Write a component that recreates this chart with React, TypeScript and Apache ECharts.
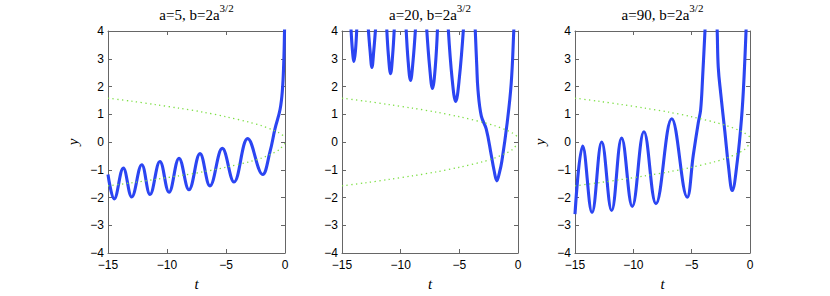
import React, { useEffect, useRef } from "react";
import * as echarts from "echarts";

// ---- data ----
const TITLES = ["a=5", "a=20", "a=90"];
const X_TICKS = { min: -15, max: 0, interval: 5 };
const Y_TICKS = { min: -4, max: 4, interval: 1 };

// blue curves: [t, y] pairs (peaks, troughs and bends), null breaks where the curve leaves the top
const CURVE_A5: ([number, number] | null)[] = [
  [-15, -1.17], [-14.47, -2.05], [-13.7, -0.94], [-12.99, -1.98], [-12.14, -0.82],
  [-11.44, -1.89], [-10.6, -0.7], [-9.83, -1.81], [-8.98, -0.59], [-8.14, -1.72],
  [-7.2, -0.42], [-6.36, -1.58], [-5.31, -0.23], [-4.32, -1.44], [-3.16, 0.12],
  [-1.89, -1.17], [-1.27, -0.35], [-0.85, 0.47], [-0.42, 1.17], [-0.22, 1.87],
  [-0.11, 2.8], [-0.04, 4.0], [-0.03, 4.3],
];

const CURVE_A20: ([number, number] | null)[] = [
  [-14.25, 4.2], [-14.11, 3.3], [-13.98, 2.9], [-13.85, 3.3], [-13.73, 4.2], null,
  [-12.78, 4.2], [-12.61, 3.3], [-12.45, 2.69], [-12.29, 3.3], [-12.12, 4.2], null,
  [-11.2, 4.2], [-11.04, 3.1], [-10.86, 2.46], [-10.69, 3.1], [-10.53, 4.2], null,
  [-9.55, 4.2], [-9.36, 2.9], [-9.16, 2.22], [-8.95, 2.9], [-8.72, 4.2], null,
  [-7.8, 4.2], [-7.53, 2.7], [-7.29, 1.93], [-7.05, 2.7], [-6.85, 4.2], null,
  [-5.96, 4.2], [-5.62, 2.3], [-5.31, 1.46], [-5.0, 2.3], [-4.63, 4.2], null,
  [-3.66, 4.2], [-3.52, 2.8], [-3.41, 1.87], [-3.13, 0.94], [-2.71, 0.47],
  [-2.28, -0.47], [-2.05, -1.0], [-1.8, -1.4], [-1.58, -1.1], [-1.38, -0.7],
  [-0.92, 0.7], [-0.58, 2.1], [-0.36, 4.0], [-0.34, 4.3],
];

const CURVE_A90: ([number, number] | null)[] = [
  [-15, -2.6], [-14.34, -0.15], [-13.54, -2.54], [-12.71, 0.0], [-11.86, -2.47],
  [-11.0, 0.14], [-10.09, -2.32], [-9.09, 0.37], [-8.06, -2.22], [-6.71, 0.84],
  [-5.38, -1.99], [-4.86, -0.47], [-4.43, 0.7], [-4.23, 1.17],
  [-4.06, 2.34], [-3.86, 4.0], [-3.82, 4.3], null,
  [-2.84, 4.3], [-2.81, 3.98], [-2.72, 2.69], [-2.51, 1.75], [-2.15, 0.35],
  [-1.86, -0.82], [-1.52, -1.75], [-1.09, -0.7], [-0.71, 0.94], [-0.51, 2.34],
  [-0.34, 4.0], [-0.31, 4.3],
];

// green dotted envelopes (same in each panel)
const ENV_T = [-15, -13, -11, -9, -7, -5, -3, -2, -1, -0.5, 0];
const ENV_UP = [1.58, 1.47, 1.35, 1.22, 1.08, 0.91, 0.71, 0.59, 0.43, 0.33, 0.18];
const ENV_LOW = [-1.58, -1.47, -1.35, -1.22, -1.08, -0.91, -0.71, -0.58, -0.4, -0.28, -0.05];

const CURVES = [CURVE_A5, CURVE_A20, CURVE_A90];
const SHOW_Y_NAME = [true, false, true];

// ---- layout / style ----
const GRIDS = [
  { left: 108, width: 177 },
  { left: 342, width: 176 },
  { left: 575, width: 175 },
];
const GRID_TOP = 31;
const GRID_H = 228;
const AXIS_COLOR = "#666666";
const BLUE = "#2b45f2";
const GREEN = "#7ddf45";
const SERIF = "Liberation Serif";
const SANS = "Liberation Sans";

const fmt = (v: number) => (v < 0 ? "\u2212" + Math.abs(v) : String(v));

function buildOption() {
  const grid: any[] = [];
  const xAxis: any[] = [];
  const yAxis: any[] = [];
  const series: any[] = [];
  const title: any[] = [];

  GRIDS.forEach((g, i) => {
    grid.push({ left: g.left, width: g.width, top: GRID_TOP, height: GRID_H, show: false });
    title.push({
      text: `{n|${TITLES[i]}, b=2a}{s|3/2}`,
      left: g.left + g.width / 2,
      textAlign: "center",
      top: 2,
      padding: 0,
      textStyle: {
        fontWeight: "normal",
        rich: {
          n: { fontFamily: SERIF, fontSize: 15, fontWeight: "normal", color: "#000", lineHeight: 25 },
          s: {
            fontFamily: SERIF,
            fontSize: 11,
            fontWeight: "normal",
            color: "#000",
            lineHeight: 11,
            verticalAlign: "top",
          },
        },
      },
    });
    const common = {
      gridIndex: i,
      type: "value",
      axisLine: { show: true, onZero: false, lineStyle: { color: AXIS_COLOR, width: 1 } },
      axisTick: { show: true, inside: true, length: 4, lineStyle: { color: AXIS_COLOR } },
      splitLine: { show: false },
    };
    xAxis.push({
      ...common,
      ...X_TICKS,
      position: "bottom",
      axisLabel: { formatter: fmt, fontFamily: SANS, fontSize: 12, color: "#000", margin: 6 },
      name: "t",
      nameLocation: "middle",
      nameGap: 23,
      nameTextStyle: { fontFamily: SERIF, fontStyle: "italic", fontSize: 15, color: "#000" },
    });
    xAxis.push({ ...common, ...X_TICKS, position: "top", axisLabel: { show: false } });
    yAxis.push({
      ...common,
      ...Y_TICKS,
      position: "left",
      axisLabel: { formatter: fmt, fontFamily: SANS, fontSize: 12, color: "#000", margin: 4 },
      name: SHOW_Y_NAME[i] ? "y" : "",
      nameLocation: "middle",
      nameGap: 28,
      nameRotate: 90,
      nameTextStyle: { fontFamily: SERIF, fontStyle: "italic", fontSize: 15, color: "#000" },
    });
    yAxis.push({ ...common, ...Y_TICKS, position: "right", axisLabel: { show: false } });

    series.push({
      type: "line",
      name: "curve" + i,
      xAxisIndex: i * 2,
      yAxisIndex: i * 2,
      data: CURVES[i].map((p) => (p ? p : [null, null])),
      connectNulls: false,
      smooth: 0.4,
      clip: true,
      showSymbol: false,
      lineStyle: { color: BLUE, width: 3.1 },
      silent: true,
      z: 2,
    });
    [ENV_UP, ENV_LOW].forEach((env, k) => {
      series.push({
        type: "line",
        name: "env" + i + "_" + k,
        xAxisIndex: i * 2,
        yAxisIndex: i * 2,
        data: ENV_T.map((t, j) => [t, env[j]]),
        smooth: 0.3,
        showSymbol: false,
        lineStyle: { color: GREEN, width: 1.3, type: [1.3, 3.4] },
        silent: true,
        z: 3,
      });
    });
  });

  return { animation: false, backgroundColor: "#fff", title, grid, xAxis, yAxis, series };
}

export default function App() {
  const ref = useRef<HTMLDivElement>(null);
  useEffect(() => {
    if (!ref.current) return;
    const chart = echarts.init(ref.current, undefined, { renderer: "svg" });
    chart.setOption(buildOption() as any);
    return () => chart.dispose();
  }, []);
  return (
    <div
      ref={ref}
      style={{ position: "fixed", left: 0, top: 0, width: 830, height: 296, background: "#fff" }}
    />
  );
}
